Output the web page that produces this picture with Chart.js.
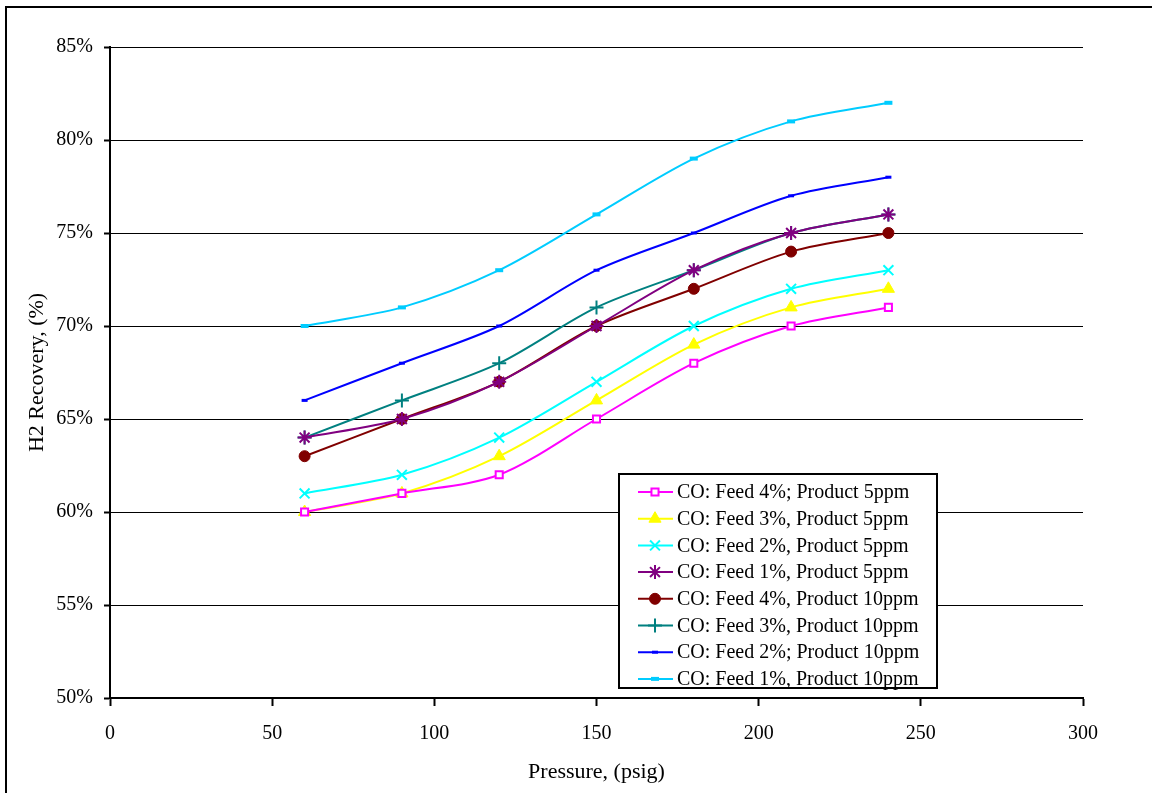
<!DOCTYPE html>
<html lang="en">
<head>
    <meta charset="UTF-8">
    <title>H2 Recovery vs Pressure</title>
    <script src="https://cdn.jsdelivr.net/npm/chart.js"></script>
    <style>
        body { margin: 0; background: #fff; }
        canvas { display: block; }
    </style>
    <script>
        // pressure (psig)
        const pressures = [60, 90, 120, 150, 180, 210, 240];

        // H2 recovery (%) per case
        const feed4prod5 = [60, 61, 62, 65, 68, 70, 71];
        const feed3prod5 = [60, 61, 63, 66, 69, 71, 72];
        const feed2prod5 = [61, 62, 64, 67, 70, 72, 73];
        const feed1prod5 = [64, 65, 67, 70, 73, 75, 76];
        const feed4prod10 = [63, 65, 67, 70, 72, 74, 75];
        const feed3prod10 = [64, 66, 68, 71, 73, 75, 76];
        const feed2prod10 = [66, 68, 70, 73, 75, 77, 78];
        const feed1prod10 = [70, 71, 73, 76, 79, 81, 82];

        const xTicks = [0, 50, 100, 150, 200, 250, 300];
        const yTicks = [50, 55, 60, 65, 70, 75, 80, 85];

        const seriesLabels = [
            "CO: Feed 4%; Product 5ppm",
            "CO: Feed 3%, Product 5ppm",
            "CO: Feed 2%, Product 5ppm",
            "CO: Feed 1%, Product 5ppm",
            "CO: Feed 4%, Product 10ppm",
            "CO: Feed 3%, Product 10ppm",
            "CO: Feed 2%; Product 10ppm",
            "CO: Feed 1%, Product 10ppm"
        ];

        const FONT = "'Liberation Serif', 'Times New Roman', serif";

        function pts(vals) {
            return vals.map((v, i) => ({ x: pressures[i], y: v }));
        }

        function series(i, vals, color, style, radius, fill, bw) {
            return {
                label: seriesLabels[i],
                data: pts(vals),
                borderColor: color,
                borderWidth: 2,
                tension: 0.3,
                pointStyle: style,
                pointRadius: radius,
                pointBorderColor: color,
                pointBackgroundColor: fill,
                pointBorderWidth: bw
            };
        }

        // white page + outer frame
        const framePlugin = {
            id: "frame",
            beforeDraw(chart) {
                const ctx = chart.ctx;
                ctx.save();
                ctx.fillStyle = "#fff";
                ctx.fillRect(0, 0, chart.width, chart.height);
                ctx.strokeStyle = "#000";
                ctx.lineWidth = 2;
                ctx.strokeRect(6, 7, chart.width + 50, chart.height + 50);
                ctx.restore();
            }
        };

        // legend box inside the plot
        const boxLegend = {
            id: "boxLegend",
            afterDraw(chart) {
                const ctx = chart.ctx;
                const left = 619, top = 474, w = 318, h = 214;
                ctx.save();
                ctx.fillStyle = "#fff";
                ctx.fillRect(left, top, w, h);
                ctx.strokeStyle = "#000";
                ctx.lineWidth = 2;
                ctx.strokeRect(left, top, w, h);
                ctx.font = "20px " + FONT;
                ctx.textBaseline = "middle";
                chart.data.datasets.forEach((ds, i) => {
                    const y = 492 + i * 26.7;
                    ctx.strokeStyle = ds.borderColor;
                    ctx.lineWidth = 2;
                    ctx.beginPath();
                    ctx.moveTo(638, y);
                    ctx.lineTo(673, y);
                    ctx.stroke();
                    ctx.fillStyle = ds.pointBackgroundColor;
                    ctx.lineWidth = ds.pointBorderWidth;
                    Chart.helpers.drawPoint(ctx, {
                        pointStyle: ds.pointStyle,
                        radius: ds.pointRadius,
                        rotation: 0,
                        borderWidth: ds.pointBorderWidth
                    }, 655, y);
                    ctx.fillStyle = "#000";
                    ctx.fillText(ds.label, 677, y + 1);
                });
                ctx.restore();
            }
        };

        document.addEventListener("DOMContentLoaded", () => {
            const ctx = document.getElementById("chart").getContext("2d");
            new Chart(ctx, {
                type: "line",
                data: {
                    datasets: [
                        series(0, feed4prod5, "#ff00ff", "rect", 5, "#ffffff", 2),
                        series(1, feed3prod5, "#ffff00", "triangle", 7, "#ffff00", 1),
                        series(2, feed2prod5, "#00ffff", "crossRot", 7, "#00ffff", 2),
                        series(3, feed1prod5, "#800080", "star", 7, "#800080", 2),
                        series(4, feed4prod10, "#800000", "circle", 5.5, "#800000", 1),
                        series(5, feed3prod10, "#008080", "cross", 7, "#008080", 2),
                        series(6, feed2prod10, "#0000ff", "line", 3, "#0000ff", 3),
                        series(7, feed1prod10, "#00ccff", "line", 4, "#00ccff", 4)
                    ]
                },
                options: {
                    responsive: false,
                    animation: false,
                    layout: { padding: { left: 0, right: 69, top: 47, bottom: 0 } },
                    plugins: {
                        legend: { display: false },
                        tooltip: { enabled: false }
                    },
                    scales: {
                        x: {
                            type: "linear",
                            min: 0,
                            max: 300,
                            afterFit(scale) { scale.height = 95; },
                            afterBuildTicks(scale) { scale.ticks = xTicks.map(v => ({ value: v })); },
                            ticks: { color: "#000", font: { family: FONT, size: 20 }, padding: 16, maxRotation: 0 },
                            grid: { drawOnChartArea: false, color: "#000", tickLength: 8, tickWidth: 2 },
                            border: { color: "#000", width: 2 },
                            title: {
                                display: true,
                                text: "Pressure, (psig)",
                                color: "#000",
                                font: { family: FONT, size: 22 },
                                padding: { top: 0, bottom: 8 }
                            }
                        },
                        y: {
                            min: 50,
                            max: 85,
                            afterFit(scale) { scale.width = 110; },
                            afterBuildTicks(scale) { scale.ticks = yTicks.map(v => ({ value: v })); },
                            ticks: {
                                color: "#000",
                                font: { family: FONT, size: 20 },
                                padding: 11,
                                callback: v => v + "%"
                            },
                            grid: { color: "#000", lineWidth: 1, tickLength: 6, tickWidth: 2 },
                            border: { color: "#000", width: 2 },
                            title: {
                                display: true,
                                text: "H2 Recovery, (%)",
                                color: "#000",
                                font: { family: FONT, size: 22 },
                                padding: { top: 24, bottom: 0 }
                            }
                        }
                    }
                },
                plugins: [framePlugin, boxLegend]
            });
        });
    </script>
</head>
<body>
    <canvas id="chart" width="1152" height="793"></canvas>
</body>
</html>
